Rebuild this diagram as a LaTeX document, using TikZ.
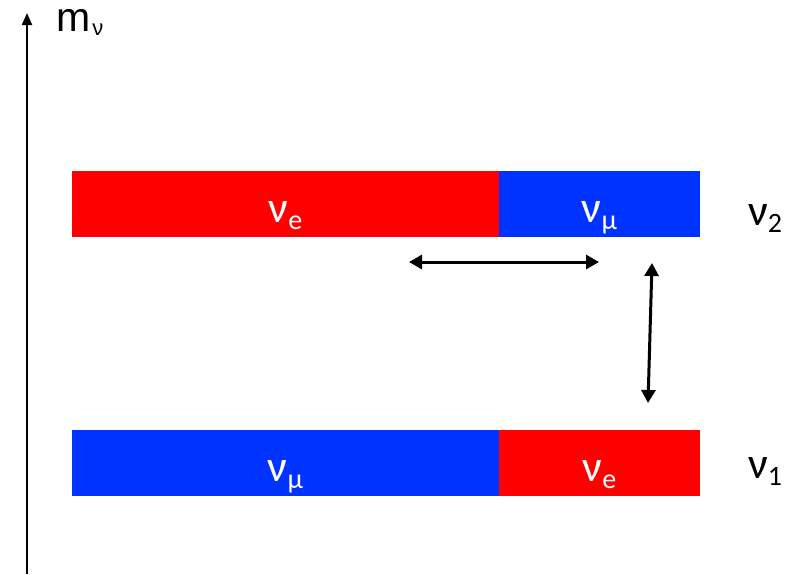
\documentclass[tikz,border=0pt]{standalone}
\usepackage{fontspec}
\setmainfont{Carlito}
\newfontfamily\arialf{Liberation Sans}
\usetikzlibrary{arrows.meta}
\definecolor{vred}{RGB}{255,0,0}
\definecolor{vblue}{RGB}{0,51,255}
\newcommand{\nusub}[1]{\fontsize{44}{44}\selectfont ν\raisebox{-0.16em}{\fontsize{28}{28}\selectfont #1}}
\tikzset{
  bar/.style={draw=none, minimum height=66pt, inner sep=0pt, outer sep=0pt, anchor=north west},
  lbl/.style={inner sep=0pt, anchor=base west},
  dbl/.style={line width=3pt, {Triangle[length=13pt,width=14pt]}-{Triangle[length=13pt,width=14pt]}},
  axisline/.style={line width=2pt, -{Triangle[length=12pt,width=10pt]}}
}
\begin{document}
\begin{tikzpicture}[x=1pt,y=-1pt]
\useasboundingbox[fill=white] (0,0) rectangle (794,574);
% axis
\coordinate (a0) at (27,574);
\coordinate (a1) at (27,13);
\draw[axisline] (a0) -- (a1);
\node[lbl] (mlab) at (56,31.5) {\arialf\fontsize{41}{41}\selectfont m\kern2pt\raisebox{-0.1em}{\fontsize{22}{22}\selectfont ν}};
% top bar (nu_2)
\node[bar, fill=vred, minimum width=427pt] (r2) at (72,171) {};
\node[bar, fill=vblue, minimum width=201pt] (b2) at (499,171) {};
\node[lbl, anchor=base, text=white] (t2e) at (285.5,222) {\nusub{e}};
\node[lbl, anchor=base, text=white] (t2m) at (599.5,222) {\nusub{μ}};
\node[lbl] (nu2) at (748,225) {\nusub{2}};
% bottom bar (nu_1)
\node[bar, fill=vblue, minimum width=427pt] (b1) at (72,430) {};
\node[bar, fill=vred, minimum width=201pt] (r1) at (499,430) {};
\node[lbl, anchor=base, text=white] (t1m) at (285.5,481) {\nusub{μ}};
\node[lbl, anchor=base, text=white] (t1e) at (599.5,481) {\nusub{e}};
\node[lbl] (nu1) at (748,478) {\nusub{1}};
% arrows
\coordinate (h1) at (409,262);
\coordinate (h2) at (599,262);
\draw[dbl] (h1) -- (h2);
\coordinate (v1) at (652,263);
\coordinate (v2) at (648,403);
\draw[dbl] (v1) -- (v2);
\end{tikzpicture}
\end{document}
